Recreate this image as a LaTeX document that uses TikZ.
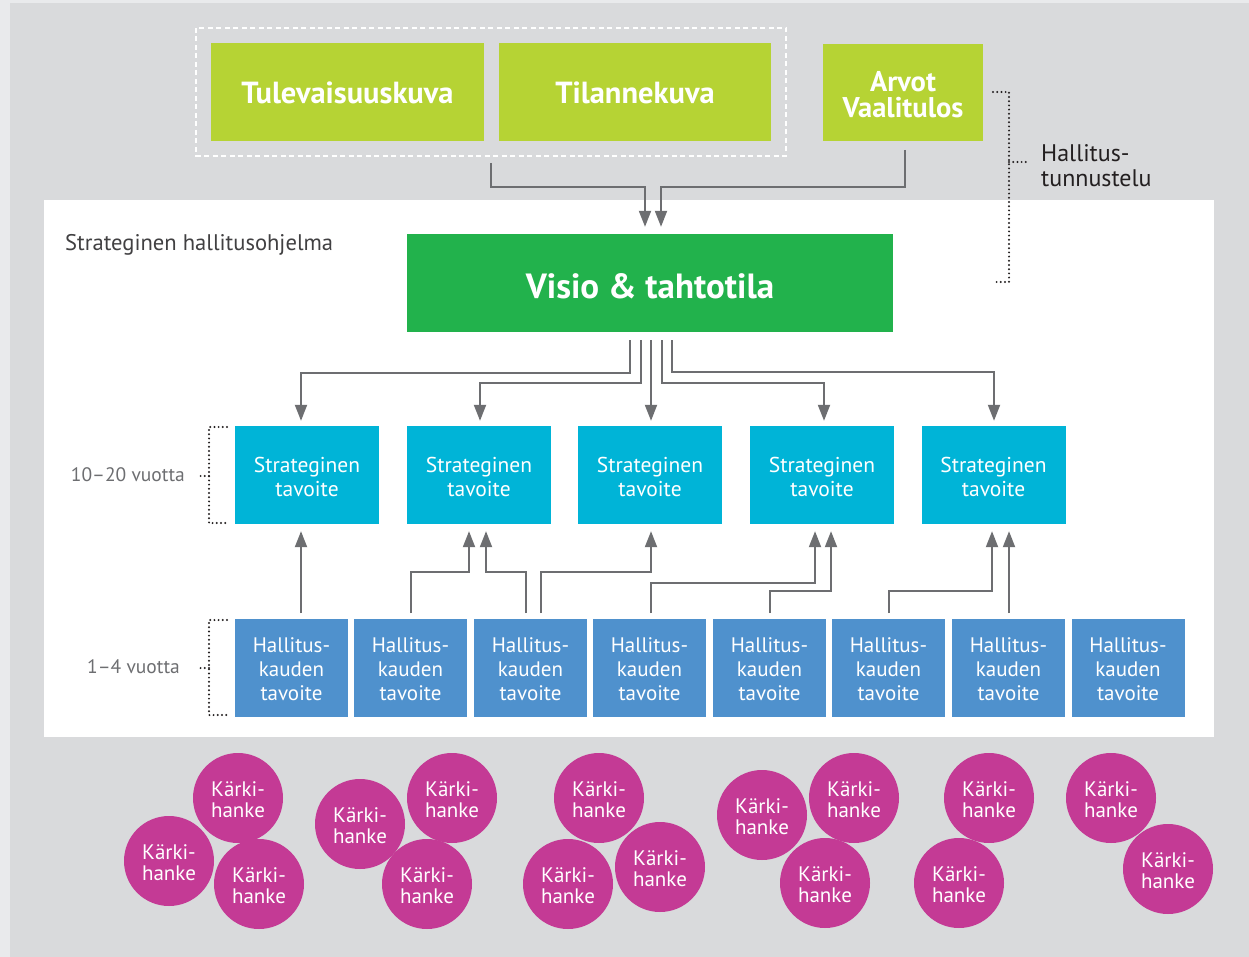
\documentclass[tikz,border=0pt]{standalone}
\usepackage{fontspec}
\setmainfont{PT Sans}
\usetikzlibrary{arrows.meta}
\definecolor{outergray}{HTML}{E9EAEC}
\definecolor{bggray}{HTML}{D9DADC}
\definecolor{lime}{HTML}{B6D334}
\definecolor{vgreen}{HTML}{22B24C}
\definecolor{cyanbox}{HTML}{00B4D7}
\definecolor{bluebox}{HTML}{4F91CD}
\definecolor{magenta}{HTML}{C43A95}
\definecolor{arrgray}{HTML}{6D6E71}
\definecolor{darktext}{HTML}{414042}
\definecolor{dottext}{HTML}{231F20}
\begin{document}
\begin{tikzpicture}[x=1pt,y=-1pt,
  boxbase/.style={inner sep=0pt, align=center, text=white, minimum height=98pt},
  topbox/.style={boxbase, fill=lime, font=\bfseries\fontsize{30.5}{28}\selectfont, text height=24pt, text depth=0pt},
  visbox/.style={boxbase, fill=vgreen, minimum width=486pt, font=\bfseries\fontsize{35}{35}\selectfont, text height=30.5pt, text depth=0pt},
  stratbox/.style={boxbase, fill=cyanbox, minimum width=144pt, font=\fontsize{21.5}{24}\selectfont, text height=43pt, text depth=0pt},
  hallbox/.style={boxbase, fill=bluebox, minimum width=113pt, font=\fontsize{21}{24}\selectfont, text height=64.7pt, text depth=0pt},
  karki/.style={circle, fill=magenta, minimum size=90pt, inner sep=0pt, align=center, text=white, font=\fontsize{21}{21.5}\selectfont, text height=39.2pt, text depth=0pt},
  arr/.style={draw=arrgray, line width=2pt, -{Triangle[length=16pt,width=12pt]}},
  dotline/.style={draw=dottext, line width=2.2pt, line cap=round, dash pattern=on 0pt off 4.2pt},
  sidelabel/.style={inner sep=0pt, text=arrgray, font=\fontsize{19.5}{22}\selectfont},
]
\useasboundingbox (0,0) rectangle (1249,957);
\fill[outergray] (0,0) rectangle (1249,957);
\fill[bggray] (10,3) rectangle (1249,957);
\fill[white] (44,200) rectangle (1214,737);

% top boxes
\draw[white, line width=1.5pt, dash pattern=on 5pt off 3.5pt] (196,28) rectangle (786,156);
\node[topbox, minimum width=273pt] (tul) at (347.5,92) {Tulevaisuuskuva};
\node[topbox, minimum width=272pt] (til) at (635,92) {Tilannekuva};
\node[topbox, minimum width=160pt, minimum height=97pt, font=\bfseries\fontsize{28.5}{26}\selectfont, text height=51pt, text depth=0pt] (arv) at (903,92.5) {Arvot\\Vaalitulos};

% visio
\node[visbox] (vis) at (650,283) {Visio \& tahtotila};
\node[anchor=west, inner sep=0pt, text=darktext, font=\fontsize{22.6}{24}\selectfont] (sho) at (65,245) {Strateginen hallitusohjelma};

% right dotted bracket
\draw[dotline] (993,92) -- (1009,92) -- (1009,282) -- (993,282);
\draw[dotline] (1009,162) -- (1028,162);
\node[anchor=west, inner sep=0pt, align=left, text=dottext, font=\fontsize{24}{25}\selectfont] (ht) at (1041,166) {Hallitus-\\tunnustelu};

% strategic goals
\foreach \i/\x in {1/307,2/479,3/650,4/822,5/993.5}
  \node[stratbox] (s\i) at (\x,475) {Strateginen\\tavoite};

% government term goals
\foreach \i/\x in {1/291.5,2/410.5,3/530.5,4/649.5,5/769.5,6/888.5,7/1008.5,8/1128}
  \node[hallbox] (h\i) at (\x,668) {Hallitus-\\kauden\\tavoite};

% left brackets
\draw[dotline] (227,427) -- (209,427) -- (209,523) -- (227,523);
\draw[dotline] (209,476) -- (197,476);
\node[sidelabel, anchor=east] (l1) at (185,475) {10–20 vuotta};
\draw[dotline] (227,620) -- (209,620) -- (209,715) -- (227,715);
\draw[dotline] (209,668) -- (197,668);
\node[sidelabel, anchor=east] (l2) at (180,667) {1–4 vuotta};

% arrows into visio
\coordinate (t1) at (491,163);
\coordinate (t2) at (905,150);
\coordinate (ta) at (645,187);
\coordinate (tb) at (661,187);
\draw[arr, shorten >=7pt] (t1) |- (ta) -- (ta |- vis.north);
\draw[arr, shorten >=7pt] (t2) |- (tb) -- (tb |- vis.north);

% arrows visio -> strategic
\coordinate (v1) at (630,340); \coordinate (m1) at (301,373);
\coordinate (v2) at (641,340); \coordinate (m2) at (480,383);
\coordinate (v3) at (651,340);
\coordinate (v4) at (662,340); \coordinate (m4) at (824,383);
\coordinate (v5) at (672,340); \coordinate (m5) at (994,372);
\draw[arr, shorten >=5pt] (v1) |- (m1) -- (m1 |- s1.north);
\draw[arr, shorten >=5pt] (v2) |- (m2) -- (m2 |- s2.north);
\draw[arr, shorten >=5pt] (v3) -- (v3 |- s3.north);
\draw[arr, shorten >=5pt] (v4) |- (m4) -- (m4 |- s4.north);
\draw[arr, shorten >=5pt] (v5) |- (m5) -- (m5 |- s5.north);

% arrows hallitus -> strategic
\coordinate (b1) at (301,613);
\coordinate (b2) at (411,613); \coordinate (n2) at (469,572);
\coordinate (b3) at (526,613); \coordinate (n3) at (486,572);
\coordinate (b4) at (541,613); \coordinate (n4) at (651,572);
\coordinate (b5) at (651,613); \coordinate (n5) at (815,583);
\coordinate (b6) at (770,613); \coordinate (n6) at (831,591);
\coordinate (b7) at (889,613); \coordinate (n7) at (992,591);
\coordinate (b8) at (1009,613);
\draw[arr, shorten >=7pt] (b1) -- (b1 |- s1.south);
\draw[arr, shorten >=7pt] (b2) |- (n2) -- (n2 |- s2.south);
\draw[arr, shorten >=7pt] (b3) |- (n3) -- (n3 |- s2.south);
\draw[arr, shorten >=7pt] (b4) |- (n4) -- (n4 |- s3.south);
\draw[arr, shorten >=7pt] (b5) |- (n5) -- (n5 |- s4.south);
\draw[arr, shorten >=7pt] (b6) |- (n6) -- (n6 |- s4.south);
\draw[arr, shorten >=7pt] (b7) |- (n7) -- (n7 |- s5.south);
\draw[arr, shorten >=7pt] (b8) -- (b8 |- s5.south);

% key projects
\foreach \i/\x/\y in {1/238/798, 2/169/861, 3/259/884, 4/360/824, 5/452/798, 6/427/884,
  7/599/798, 8/568/884, 9/660/867, 10/762/815, 11/854/798, 12/825/883,
  13/989/798, 14/959/883, 15/1111/798, 16/1168/869}
  \node[karki] (k\i) at (\x,\y) {Kärki-\\hanke};
\end{tikzpicture}
\end{document}
